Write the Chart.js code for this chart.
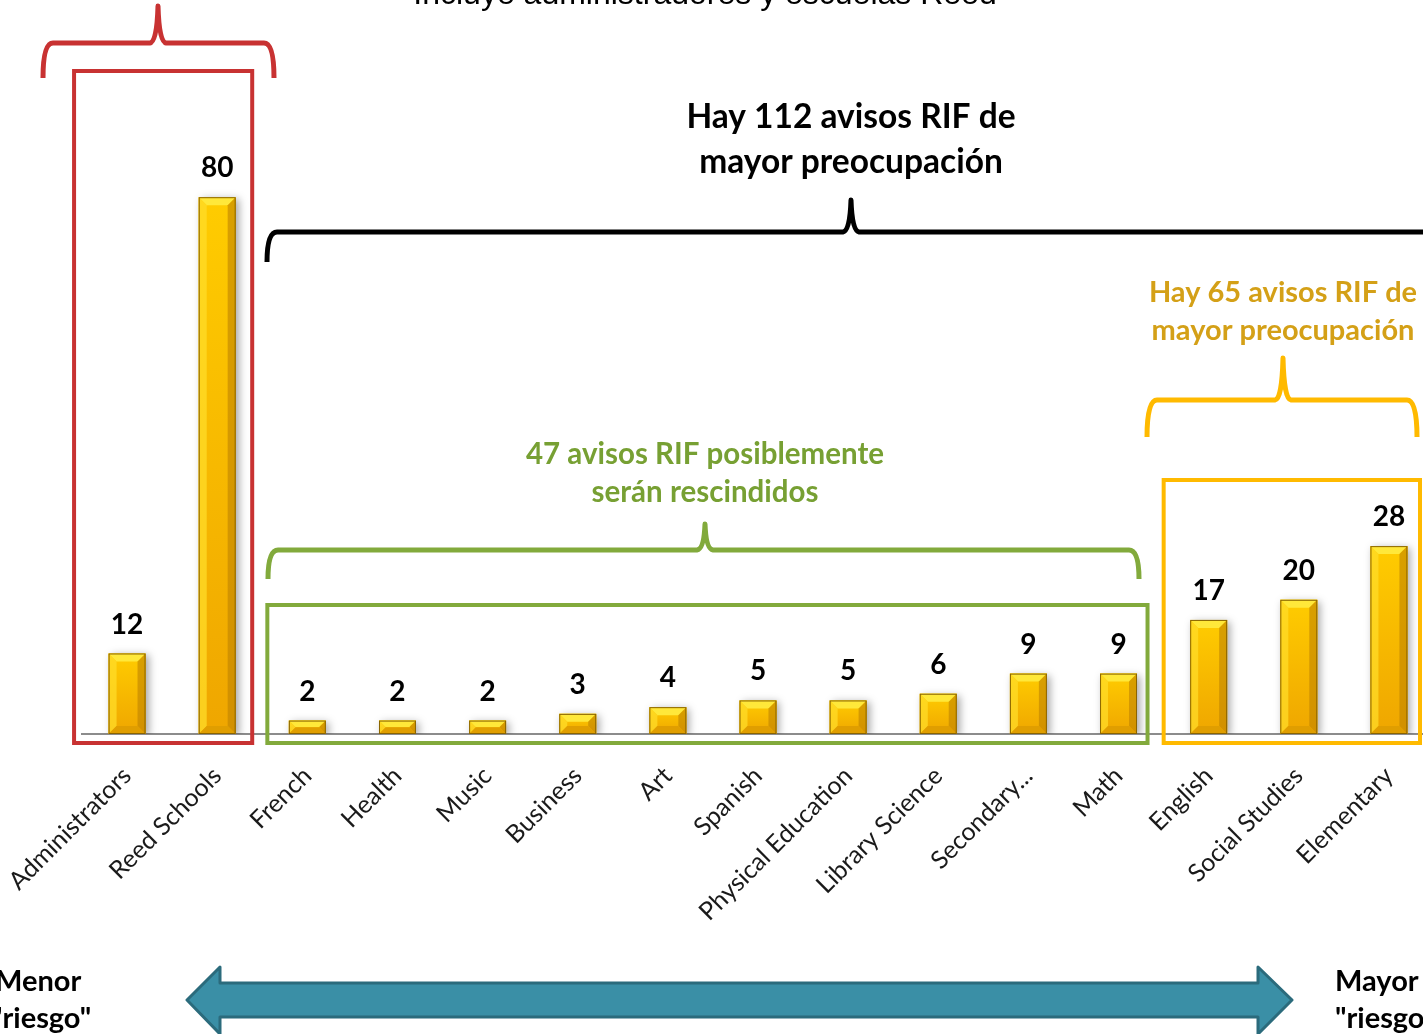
<!DOCTYPE html>
<html>
<head>
<meta charset="utf-8">
<title>Avisos RIF</title>
<script src="https://cdn.jsdelivr.net/npm/chart.js@4/dist/chart.umd.min.js"></script>
<style>
  html, body { margin: 0; padding: 0; background: #fff; overflow: hidden; }
  canvas { display: block; }
</style>
</head>
<body>
<canvas id="rifChart" width="1440" height="1034"></canvas>
<script>
const categories = ['Administrators', 'Reed Schools', 'French', 'Health', 'Music', 'Business', 'Art',
  'Spanish', 'Physical Education', 'Library Science', 'Secondary...', 'Math', 'English',
  'Social Studies', 'Elementary'];
const notices = [12, 80, 2, 2, 2, 3, 4, 5, 5, 6, 9, 9, 17, 20, 28];
const yMin = 0;
const yMax = 100;

const LABEL_FONT = 'Lato, "Open Sans", sans-serif';

// soft shadow behind the bars
const barShadow = {
  id: 'barShadow',
  beforeDatasetsDraw(chart) {
    const ctx = chart.ctx;
    ctx.save();
    ctx.shadowColor = 'rgba(0,0,0,0.35)';
    ctx.shadowBlur = 8;
    ctx.shadowOffsetX = 3;
    ctx.shadowOffsetY = 2;
  },
  afterDatasetsDraw(chart) {
    chart.ctx.restore();
  }
};

// bevel on every bar + value labels
const barBevel = {
  id: 'barBevel',
  afterDatasetsDraw(chart) {
    const ctx = chart.ctx;
    const meta = chart.getDatasetMeta(0);
    meta.data.forEach((bar, i) => {
      const left = bar.x - bar.width / 2;
      const right = bar.x + bar.width / 2;
      const top = bar.y;
      const bottom = bar.base;
      const b = Math.min(8, (bottom - top) / 2);

      ctx.save();
      // face
      const face = ctx.createLinearGradient(0, top, 0, bottom);
      face.addColorStop(0, '#FFCC00');
      face.addColorStop(1, '#EFA600');
      ctx.fillStyle = face;
      ctx.fillRect(left, top, bar.width, bottom - top);
      // top
      ctx.fillStyle = '#FFE83A';
      ctx.beginPath();
      ctx.moveTo(left, top); ctx.lineTo(right, top);
      ctx.lineTo(right - b, top + b); ctx.lineTo(left + b, top + b);
      ctx.closePath(); ctx.fill();
      // left
      ctx.fillStyle = 'rgba(255,220,40,0.75)';
      ctx.beginPath();
      ctx.moveTo(left, top); ctx.lineTo(left + b, top + b);
      ctx.lineTo(left + b, bottom - b); ctx.lineTo(left, bottom);
      ctx.closePath(); ctx.fill();
      // right
      ctx.fillStyle = 'rgba(190,130,0,0.6)';
      ctx.beginPath();
      ctx.moveTo(right, top); ctx.lineTo(right - b, top + b);
      ctx.lineTo(right - b, bottom - b); ctx.lineTo(right, bottom);
      ctx.closePath(); ctx.fill();
      // bottom
      ctx.fillStyle = '#E09E00';
      ctx.beginPath();
      ctx.moveTo(left, bottom); ctx.lineTo(left + b, bottom - b);
      ctx.lineTo(right - b, bottom - b); ctx.lineTo(right, bottom);
      ctx.closePath(); ctx.fill();
      // outline
      ctx.strokeStyle = '#8A6400';
      ctx.lineWidth = 1;
      ctx.strokeRect(left + 0.5, top + 0.5, bar.width - 1, bottom - top - 1);

      // value label
      ctx.fillStyle = '#000';
      ctx.font = 'bold 28px ' + LABEL_FONT;
      ctx.textAlign = 'center';
      ctx.textBaseline = 'middle';
      ctx.fillText(notices[i], bar.x, top - 29);
      ctx.restore();
    });
  }
};

function brace(ctx, x1, x2, yLine, yEnd, peakX, yPeak, color) {
  ctx.save();
  ctx.strokeStyle = color;
  ctx.lineWidth = 5;
  ctx.lineJoin = 'round';
  ctx.beginPath();
  ctx.moveTo(x1, yEnd);
  ctx.quadraticCurveTo(x1, yLine, x1 + 10, yLine);
  ctx.lineTo(peakX - 8, yLine);
  ctx.quadraticCurveTo(peakX - 1, yLine - 1, peakX, yPeak);
  ctx.quadraticCurveTo(peakX + 1, yLine - 1, peakX + 8, yLine);
  ctx.lineTo(x2 - 10, yLine);
  ctx.quadraticCurveTo(x2, yLine, x2, yEnd);
  ctx.stroke();
  ctx.restore();
}

function box(ctx, x1, y1, x2, y2, color) {
  ctx.save();
  ctx.strokeStyle = color;
  ctx.lineWidth = 4;
  ctx.strokeRect(x1, y1, x2 - x1, y2 - y1);
  ctx.restore();
}

function textLines(ctx, lines, cx, y, gap, font, color) {
  ctx.save();
  ctx.font = font;
  ctx.fillStyle = color;
  ctx.textAlign = 'center';
  ctx.textBaseline = 'middle';
  lines.forEach((t, i) => ctx.fillText(t, cx, y + i * gap));
  ctx.restore();
}

// groups, brackets, arrow and side notes
const annotations = {
  id: 'annotations',
  afterDraw(chart) {
    const ctx = chart.ctx;
    const x = chart.scales.x;
    const base = chart.chartArea.bottom;
    const px = i => x.getPixelForValue(i);

    // top note (cut off)
    ctx.save();
    ctx.font = '32px "Liberation Sans", Arial, sans-serif';
    ctx.fillStyle = '#000';
    ctx.textAlign = 'center';
    ctx.textBaseline = 'alphabetic';
    ctx.fillText('Incluye administradores y escuelas Reed', 705, 4);
    ctx.restore();

    // red group
    brace(ctx, 43, 274, 43, 78, 158, 6, '#C83232');
    box(ctx, px(0) - 53, 71, px(1) + 35, base + 9, '#C83232');

    // black group
    textLines(ctx, ['Hay 112 avisos RIF de', 'mayor preocupación'], 851, 117, 45,
      'bold 33.5px ' + LABEL_FONT, '#000');
    brace(ctx, 267, 1500, 232, 262, 851, 200, '#000');

    // green group
    textLines(ctx, ['47 avisos RIF posiblemente', 'serán rescindidos'], 705, 454, 38,
      'bold 29.5px ' + LABEL_FONT, '#77A033');
    brace(ctx, 268, 1139, 550, 579, 705, 524, '#82AA3C');
    box(ctx, px(2) - 40, 605, px(11) + 29, base + 9, '#82AA3C');

    // orange group
    textLines(ctx, ['Hay 65 avisos RIF de', 'mayor preocupación'], 1283, 293, 38,
      'bold 29px ' + LABEL_FONT, '#D4A017');
    brace(ctx, 1147, 1417, 400, 437, 1283, 358, '#FFBA00');
    box(ctx, px(12) - 45, 480, 1420, base + 9, '#FFBA00');

    // arrow
    ctx.save();
    ctx.fillStyle = '#3A8FA6';
    ctx.strokeStyle = '#2B6B7C';
    ctx.lineWidth = 3;
    ctx.lineJoin = 'round';
    ctx.beginPath();
    ctx.moveTo(187, 1000);
    ctx.lineTo(220, 967);
    ctx.lineTo(220, 983);
    ctx.lineTo(1258, 983);
    ctx.lineTo(1258, 967);
    ctx.lineTo(1292, 1000);
    ctx.lineTo(1258, 1034);
    ctx.lineTo(1258, 1017);
    ctx.lineTo(220, 1017);
    ctx.lineTo(220, 1034);
    ctx.closePath();
    ctx.fill();
    ctx.stroke();
    ctx.restore();

    // side notes
    ctx.save();
    ctx.font = 'bold 29px ' + LABEL_FONT;
    ctx.fillStyle = '#000';
    ctx.textAlign = 'left';
    ctx.textBaseline = 'middle';
    ctx.fillText('Menor', -5, 982);
    ctx.fillText('"riesgo"', -9, 1019);
    ctx.fillText('Mayor', 1335, 982);
    ctx.fillText('"riesgo"', 1335, 1019);
    ctx.restore();
  }
};

document.addEventListener('DOMContentLoaded', function() {
  const ctx = document.getElementById('rifChart');
  new Chart(ctx, {
    type: 'bar',
    data: {
      labels: categories,
      datasets: [{
        data: notices,
        backgroundColor: '#FFC20A',
        borderWidth: 0,
        barPercentage: 0.82,
        categoryPercentage: 0.5
      }]
    },
    options: {
      responsive: false,
      animation: false,
      layout: { padding: { left: 82, right: 6, top: 63, bottom: 0 } },
      plugins: {
        legend: { display: false },
        tooltip: { enabled: false }
      },
      scales: {
        x: {
          grid: { display: false, drawTicks: false },
          border: { display: true, color: '#8C8C8C', width: 2 },
          ticks: {
            color: '#1a1a1a',
            font: { family: LABEL_FONT, size: 25 },
            minRotation: 45,
            maxRotation: 45,
            autoSkip: false,
            padding: 27
          },
          afterFit(scale) {
            scale.height = 300;
            scale.paddingLeft = 0;
            scale.paddingRight = 0;
          }
        },
        y: {
          display: false,
          min: yMin,
          max: yMax
        }
      }
    },
    plugins: [barShadow, barBevel, annotations]
  });
});
</script>
</body>
</html>
